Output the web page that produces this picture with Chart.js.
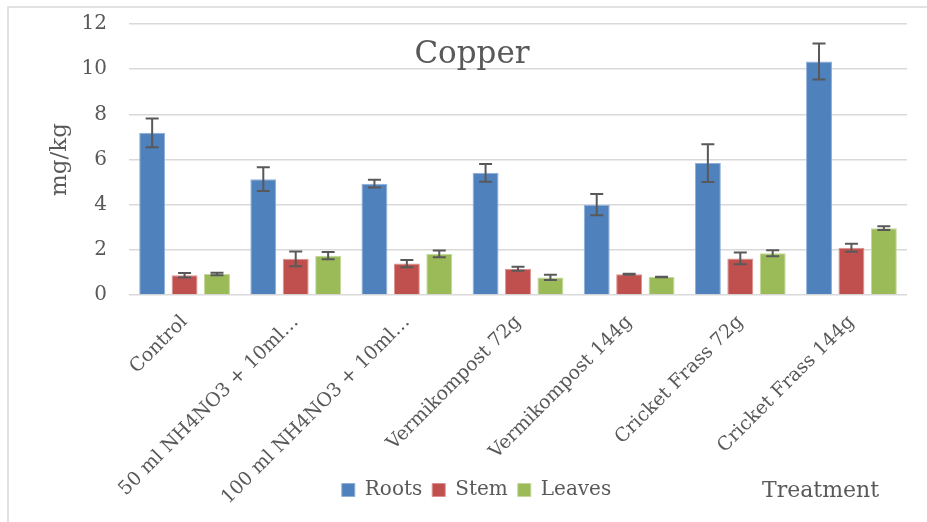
<!DOCTYPE html>
<html>
<head>
<meta charset="utf-8">
<script src="https://cdn.jsdelivr.net/npm/chart.js@4.4.0/dist/chart.umd.min.js"></script>
<style>
  html, body { margin: 0; padding: 0; background: #fff; }
  #wrap { width: 927px; height: 522px; position: relative; }
</style>
</head>
<body>
<div id="wrap"><canvas id="c" width="927" height="522"></canvas></div>
<script>
const categories = [
  "Control",
  "50 ml NH4NO3 + 10ml…",
  "100 ml NH4NO3 + 10ml…",
  "Vermikompost 72g",
  "Vermikompost 144g",
  "Cricket Frass 72g",
  "Cricket Frass 144g"
];
const rootsValues  = [7.18, 5.13, 4.93, 5.41, 4.00, 5.84, 10.34];
const stemValues   = [0.87, 1.60, 1.39, 1.16, 0.92, 1.62, 2.09];
const leavesValues = [0.93, 1.74, 1.82, 0.78, 0.80, 1.85, 2.96];
const rootsErr  = [0.64, 0.53, 0.17, 0.39, 0.47, 0.84, 0.80];
const stemErr   = [0.10, 0.33, 0.16, 0.09, 0.02, 0.26, 0.18];
const leavesErr = [0.05, 0.16, 0.15, 0.12, 0.01, 0.13, 0.08];
const yTicks = [0, 2, 4, 6, 8, 10, 12];
const chartTitle = "Copper";
const yAxisTitle = "mg/kg";
const xAxisTitle = "Treatment";

const SERIF = "'DejaVu Serif', serif";
const TXT = "#595959";

const errorBarPlugin = {
  id: 'errorBars',
  afterDatasetsDraw(chart) {
    const ctx = chart.ctx;
    const y = chart.scales.y;
    ctx.save();
    ctx.strokeStyle = "#595959";
    ctx.lineWidth = 2;
    chart.data.datasets.forEach((ds, di) => {
      const meta = chart.getDatasetMeta(di);
      meta.data.forEach((bar, i) => {
        const v = ds.data[i], e = ds.errors[i];
        const yt = y.getPixelForValue(v + e);
        const yb = y.getPixelForValue(v - e);
        const x = bar.x, hw = 6.5;
        ctx.beginPath();
        ctx.moveTo(x, yt); ctx.lineTo(x, yb);
        ctx.moveTo(x - hw, yt); ctx.lineTo(x + hw, yt);
        ctx.moveTo(x - hw, yb); ctx.lineTo(x + hw, yb);
        ctx.stroke();
      });
    });
    ctx.restore();
  }
};

const decorPlugin = {
  id: 'decor',
  afterLayout(chart) {
    // let the rotated category labels run down into the legend row, as in the reference
    const xs = chart.scales.x;
    xs.bottom = chart.height;
  },
  beforeDraw(chart) {
    const ctx = chart.ctx;
    ctx.save();
    ctx.strokeStyle = "#d9d9d9";
    ctx.lineWidth = 1.5;
    ctx.beginPath();
    ctx.moveTo(8, 522); ctx.lineTo(8, 7); ctx.lineTo(927, 7);
    ctx.stroke();
    ctx.restore();
  },
  afterDraw(chart) {
    const ctx = chart.ctx;
    ctx.save();
    ctx.fillStyle = TXT;
    ctx.font = "31px " + SERIF;
    ctx.textAlign = "center";
    ctx.textBaseline = "alphabetic";
    ctx.fillText(chartTitle, 472, 63);
    ctx.font = "22px " + SERIF;
    ctx.textAlign = "left";
    ctx.textBaseline = "middle";
    ctx.fillText(xAxisTitle, 762, 491);
    ctx.restore();
  }
};

new Chart(document.getElementById('c'), {
  type: 'bar',
  data: {
    labels: categories,
    datasets: [
      { label: "Roots",  data: rootsValues,  errors: rootsErr,  backgroundColor: "#4F81BD", borderColor: "#8FB0D8" },
      { label: "Stem",   data: stemValues,   errors: stemErr,   backgroundColor: "#C0504D", borderColor: "#DB918F" },
      { label: "Leaves", data: leavesValues, errors: leavesErr, backgroundColor: "#9BBB59", borderColor: "#C2D79A" }
    ]
  },
  options: {
    responsive: false,
    animation: false,
    devicePixelRatio: 1,
    layout: { padding: { left: 46, right: 20, top: 24, bottom: 12 } },
    datasets: { bar: { categoryPercentage: 0.875, barPercentage: 0.8, borderWidth: 1 } },
    plugins: {
      legend: {
        position: 'bottom',
        labels: {
          font: { family: SERIF, size: 20 },
          color: TXT,
          boxWidth: 13, boxHeight: 13,
          padding: 10
        }
      },
      title: { display: false },
      tooltip: { enabled: false }
    },
    scales: {
      x: {
        grid: { display: false },
        border: { display: false },
        ticks: {
          font: { family: SERIF, size: 19 },
          color: TXT,
          maxRotation: 45, minRotation: 45,
          autoSkip: false,
          padding: 8
        },
        afterFit(s) { s.height = 175; }
      },
      y: {
        min: 0, max: 12,
        afterBuildTicks(s) { s.ticks = yTicks.map(v => ({ value: v })); },
        grid: { color: "#d9d9d9", lineWidth: 1.5, drawTicks: false },
        border: { display: false },
        ticks: {
          font: { family: SERIF, size: 20 },
          color: TXT,
          padding: 22
        },
        title: {
          display: true,
          text: yAxisTitle,
          font: { family: SERIF, size: 23 },
          color: TXT,
          padding: { top: 0, bottom: 0 }
        },
        afterFit(s) { s.width = 83; s.paddingTop = 10; s.paddingBottom = 10; }
      }
    }
  },
  plugins: [errorBarPlugin, decorPlugin]
});
</script>
</body>
</html>
